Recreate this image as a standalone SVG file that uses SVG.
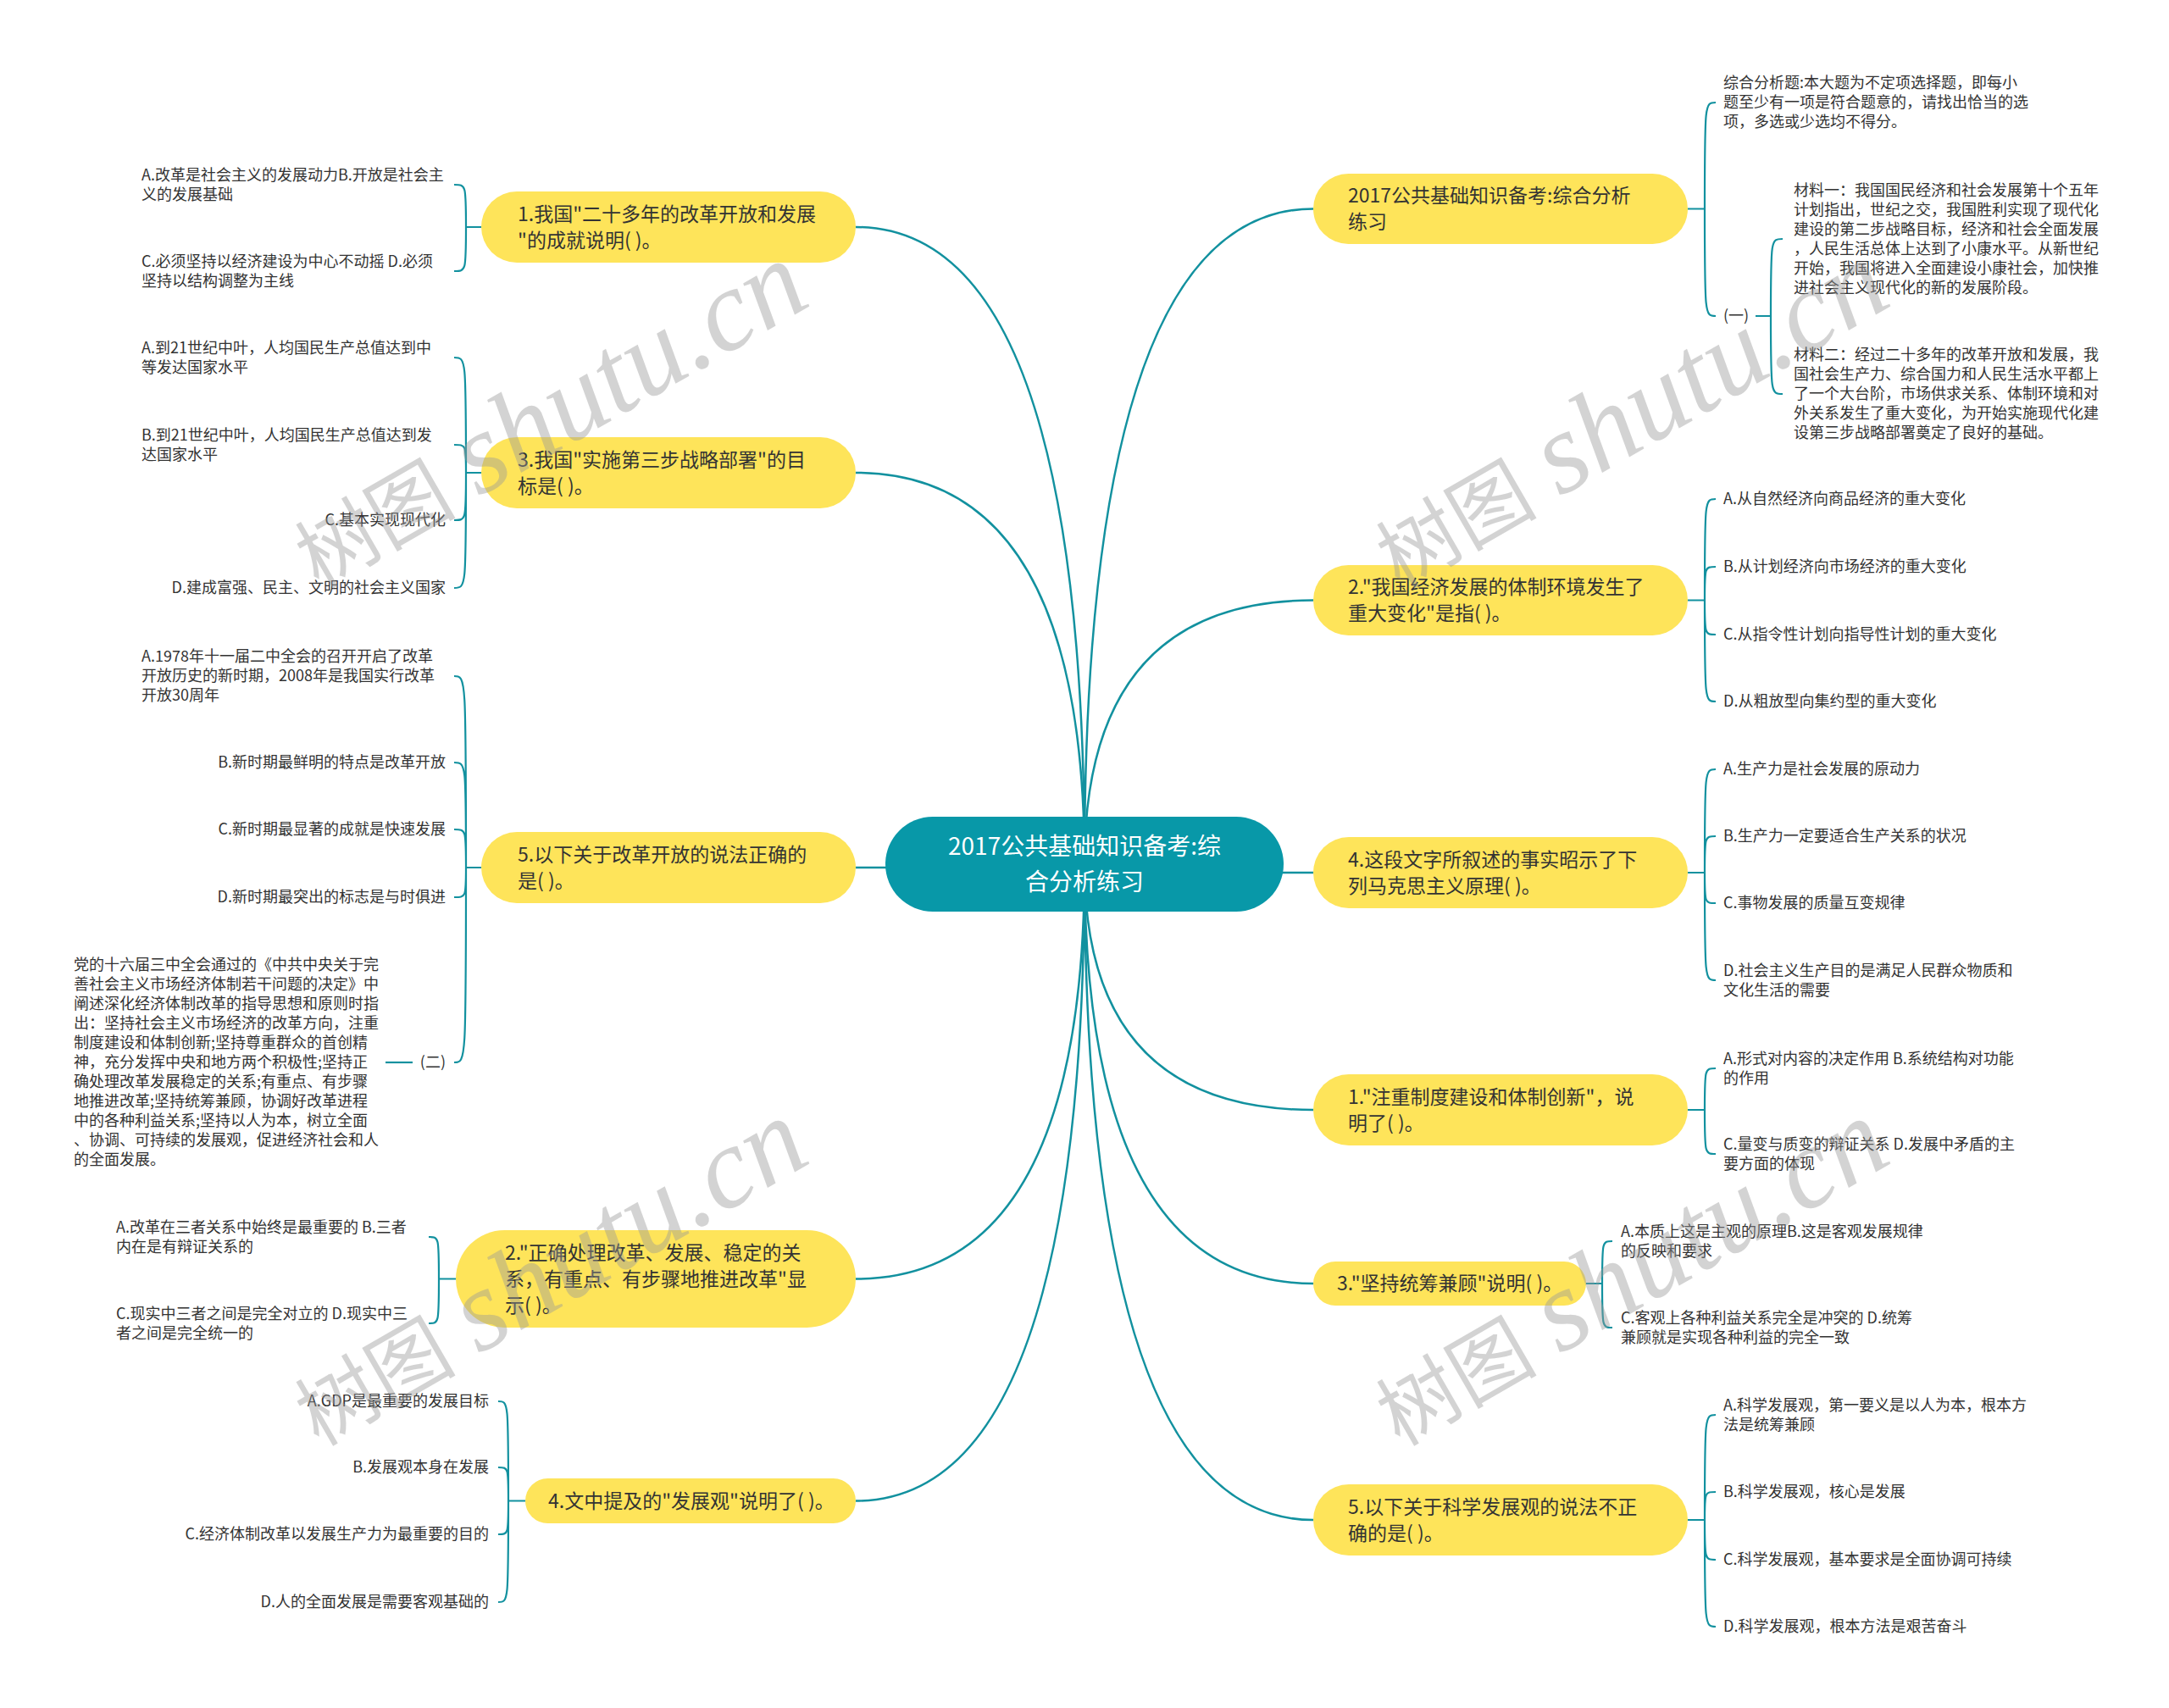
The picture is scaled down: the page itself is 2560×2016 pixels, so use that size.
<svg xmlns="http://www.w3.org/2000/svg" width="2560" height="2016" viewBox="0 0 2560 2016">
<style>
.conn{fill:none;stroke:#12919f;stroke-width:2.5}
.lc{fill:none;stroke:#12919f;stroke-width:2.2}
.yn{fill:#fee45a}
.rn{fill:#0898a8}
text{font-family:"Noto Sans CJK SC","Noto Sans",sans-serif;fill:#333}
.nt{font-size:23px}
.lt{font-size:18px}
.rt{font-size:28px;fill:#fff}
.end{text-anchor:end}
.wm{fill:#999;opacity:0.42}
.wc{font-family:"Noto Sans CJK SC",sans-serif;font-size:95px}
.we{font-family:"Liberation Serif",serif;font-style:italic;font-size:136px}
</style>
<rect width="2560" height="2016" fill="#fff"/>
<g id="connectors">
<path class="conn" d="M1280,1020 Q1280,268 1010,268"/>
<path class="conn" d="M1280,1020 Q1280,558 1010,558"/>
<path class="conn" d="M1280,1020 Q1280,1024 1010,1024"/>
<path class="conn" d="M1280,1020 Q1280,1509.5 1010,1509.5"/>
<path class="conn" d="M1280,1020 Q1280,1771.5 1010,1771.5"/>
<path class="conn" d="M1280,1020 Q1280,246.5 1550,246.5"/>
<path class="conn" d="M1280,1020 Q1280,708.5 1550,708.5"/>
<path class="conn" d="M1280,1020 Q1280,1030 1550,1030"/>
<path class="conn" d="M1280,1020 Q1280,1310 1550,1310"/>
<path class="conn" d="M1280,1020 Q1280,1515 1550,1515"/>
<path class="conn" d="M1280,1020 Q1280,1794 1550,1794"/>
<path class="lc" d="M568,268 H550 M550,268 C550,218 550,218 536,218 M550,268 C550,320 550,320 536,320"/>
<path class="lc" d="M568,558 H550 M550,558 C550,422 550,422 536,422 M550,558 C550,525 550,525 536,525 M550,558 C550,614 550,614 536,614 M550,558 C550,694 550,694 536,694"/>
<path class="lc" d="M568,1024 H550 M550,1024 C550,798 550,798 536,798 M550,1024 C550,900 550,900 536,900 M550,1024 C550,979 550,979 536,979 M550,1024 C550,1059 550,1059 536,1059 M550,1024 C550,1254 550,1254 536,1254"/>
<path class="lc" d="M487,1254 H455"/>
<path class="lc" d="M538,1509.5 H518 M518,1509.5 C518,1460 518,1460 506,1460 M518,1509.5 C518,1562 518,1562 506,1562"/>
<path class="lc" d="M620,1771.5 H600 M600,1771.5 C600,1654 600,1654 588,1654 M600,1771.5 C600,1732 600,1732 588,1732 M600,1771.5 C600,1811 600,1811 588,1811 M600,1771.5 C600,1891 600,1891 588,1891"/>
<path class="lc" d="M1992,246.5 H2012 M2012,246.5 C2012,121 2012,121 2025,121 M2012,246.5 C2012,373 2012,373 2025,373"/>
<path class="lc" d="M2072,373 H2090 M2090,373 C2090,282 2090,282 2104,282 M2090,373 C2090,465 2090,465 2104,465"/>
<path class="lc" d="M1992,708.5 H2012 M2012,708.5 C2012,589 2012,589 2025,589 M2012,708.5 C2012,669 2012,669 2025,669 M2012,708.5 C2012,749 2012,749 2025,749 M2012,708.5 C2012,828 2012,828 2025,828"/>
<path class="lc" d="M1992,1030 H2012 M2012,1030 C2012,908 2012,908 2025,908 M2012,1030 C2012,987 2012,987 2025,987 M2012,1030 C2012,1066 2012,1066 2025,1066 M2012,1030 C2012,1157 2012,1157 2025,1157"/>
<path class="lc" d="M1992,1310 H2012 M2012,1310 C2012,1261 2012,1261 2025,1261 M2012,1310 C2012,1362 2012,1362 2025,1362"/>
<path class="lc" d="M1872,1515 H1891 M1891,1515 C1891,1465 1891,1465 1903,1465 M1891,1515 C1891,1567 1891,1567 1903,1567"/>
<path class="lc" d="M1992,1794 H2012 M2012,1794 C2012,1670 2012,1670 2025,1670 M2012,1794 C2012,1761 2012,1761 2025,1761 M2012,1794 C2012,1841 2012,1841 2025,1841 M2012,1794 C2012,1920 2012,1920 2025,1920"/>
</g>

<g id="root">
<rect class="rn" x="1045" y="964" width="470" height="112" rx="56"/>
<text class="rt" text-anchor="middle"><tspan x="1280" y="1009">2017公共基础知识备考:综</tspan><tspan x="1280" y="1051">合分析练习</tspan></text>
</g>

<g id="L1">
<rect class="yn" x="568" y="226" width="442" height="84" rx="42"/>
<text class="nt"><tspan x="611" y="260.5">1.我国"二十多年的改革开放和发展</tspan><tspan x="611" y="291.5">"的成就说明( )。</tspan></text>
</g>
<g id="L3">
<rect class="yn" x="568" y="516" width="442" height="84" rx="42"/>
<text class="nt"><tspan x="611" y="550.5">3.我国"实施第三步战略部署"的目</tspan><tspan x="611" y="581.5">标是( )。</tspan></text>
</g>
<g id="L5">
<rect class="yn" x="568" y="982" width="442" height="84" rx="42"/>
<text class="nt"><tspan x="611" y="1016.5">5.以下关于改革开放的说法正确的</tspan><tspan x="611" y="1047.5">是( )。</tspan></text>
</g>
<g id="L2">
<rect class="yn" x="538" y="1452" width="472" height="115" rx="57.5"/>
<text class="nt"><tspan x="596" y="1486.5">2."正确处理改革、发展、稳定的关</tspan><tspan x="596" y="1517.5">系，有重点、有步骤地推进改革"显</tspan><tspan x="596" y="1548.5">示( )。</tspan></text>
</g>
<g id="L4">
<rect class="yn" x="620" y="1745" width="390" height="53" rx="26.5"/>
<text class="nt"><tspan x="647" y="1779.5">4.文中提及的"发展观"说明了( )。</tspan></text>
</g>

<g id="R1">
<rect class="yn" x="1550" y="205" width="442" height="83" rx="41.5"/>
<text class="nt"><tspan x="1591" y="239">2017公共基础知识备考:综合分析</tspan><tspan x="1591" y="270">练习</tspan></text>
</g>
<g id="R2">
<rect class="yn" x="1550" y="667" width="442" height="83" rx="41.5"/>
<text class="nt"><tspan x="1591" y="701">2."我国经济发展的体制环境发生了</tspan><tspan x="1591" y="732">重大变化"是指( )。</tspan></text>
</g>
<g id="R4">
<rect class="yn" x="1550" y="988" width="442" height="84" rx="42"/>
<text class="nt"><tspan x="1591" y="1022.5">4.这段文字所叙述的事实昭示了下</tspan><tspan x="1591" y="1053.5">列马克思主义原理( )。</tspan></text>
</g>
<g id="R1b">
<rect class="yn" x="1550" y="1268" width="442" height="84" rx="42"/>
<text class="nt"><tspan x="1591" y="1302.5">1."注重制度建设和体制创新"，说</tspan><tspan x="1591" y="1333.5">明了( )。</tspan></text>
</g>
<g id="R3">
<rect class="yn" x="1550" y="1489" width="322" height="52" rx="26"/>
<text class="nt"><tspan x="1578" y="1523">3."坚持统筹兼顾"说明( )。</tspan></text>
</g>
<g id="R5">
<rect class="yn" x="1550" y="1752" width="442" height="84" rx="42"/>
<text class="nt"><tspan x="1591" y="1786.5">5.以下关于科学发展观的说法不正</tspan><tspan x="1591" y="1817.5">确的是( )。</tspan></text>
</g>

<g id="L1-A"><text class="lt"><tspan x="167" y="212.5">A.改革是社会主义的发展动力B.开放是社会主</tspan><tspan x="167" y="235.5">义的发展基础</tspan></text></g>
<g id="L1-C"><text class="lt"><tspan x="167" y="314.5">C.必须坚持以经济建设为中心不动摇 D.必须</tspan><tspan x="167" y="337.5">坚持以结构调整为主线</tspan></text></g>
<g id="L3-A"><text class="lt"><tspan x="167" y="416.5">A.到21世纪中叶，人均国民生产总值达到中</tspan><tspan x="167" y="439.5">等发达国家水平</tspan></text></g>
<g id="L3-B"><text class="lt"><tspan x="167" y="519.5">B.到21世纪中叶，人均国民生产总值达到发</tspan><tspan x="167" y="542.5">达国家水平</tspan></text></g>
<g id="L3-C"><text class="lt end" x="526" y="620">C.基本实现现代化</text></g>
<g id="L3-D"><text class="lt end" x="526" y="700">D.建成富强、民主、文明的社会主义国家</text></g>
<g id="L5-A"><text class="lt"><tspan x="167" y="781">A.1978年十一届二中全会的召开开启了改革</tspan><tspan x="167" y="804">开放历史的新时期，2008年是我国实行改革</tspan><tspan x="167" y="827">开放30周年</tspan></text></g>
<g id="L5-B"><text class="lt end" x="526" y="906">B.新时期最鲜明的特点是改革开放</text></g>
<g id="L5-C"><text class="lt end" x="526" y="985">C.新时期最显著的成就是快速发展</text></g>
<g id="L5-D"><text class="lt end" x="526" y="1065">D.新时期最突出的标志是与时俱进</text></g>
<g id="L5-E"><text class="lt end" x="526" y="1260">(二)</text></g>
<g id="L5-E1"><text class="lt">
<tspan x="87" y="1145">党的十六届三中全会通过的《中共中央关于完</tspan>
<tspan x="87" y="1168">善社会主义市场经济体制若干问题的决定》中</tspan>
<tspan x="87" y="1191">阐述深化经济体制改革的指导思想和原则时指</tspan>
<tspan x="87" y="1214">出：坚持社会主义市场经济的改革方向，注重</tspan>
<tspan x="87" y="1237">制度建设和体制创新;坚持尊重群众的首创精</tspan>
<tspan x="87" y="1260">神，充分发挥中央和地方两个积极性;坚持正</tspan>
<tspan x="87" y="1283">确处理改革发展稳定的关系;有重点、有步骤</tspan>
<tspan x="87" y="1306">地推进改革;坚持统筹兼顾，协调好改革进程</tspan>
<tspan x="87" y="1329">中的各种利益关系;坚持以人为本，树立全面</tspan>
<tspan x="87" y="1352">、协调、可持续的发展观，促进经济社会和人</tspan>
<tspan x="87" y="1375">的全面发展。</tspan></text></g>
<g id="L2-A"><text class="lt"><tspan x="137" y="1454.5">A.改革在三者关系中始终是最重要的 B.三者</tspan><tspan x="137" y="1477.5">内在是有辩证关系的</tspan></text></g>
<g id="L2-C"><text class="lt"><tspan x="137" y="1556.5">C.现实中三者之间是完全对立的 D.现实中三</tspan><tspan x="137" y="1579.5">者之间是完全统一的</tspan></text></g>
<g id="L4-A"><text class="lt end" x="577" y="1660">A.GDP是最重要的发展目标</text></g>
<g id="L4-B"><text class="lt end" x="577" y="1738">B.发展观本身在发展</text></g>
<g id="L4-C"><text class="lt end" x="577" y="1817">C.经济体制改革以发展生产力为最重要的目的</text></g>
<g id="L4-D"><text class="lt end" x="577" y="1897">D.人的全面发展是需要客观基础的</text></g>

<g id="R1-A"><text class="lt"><tspan x="2034" y="104">综合分析题:本大题为不定项选择题，即每小</tspan><tspan x="2034" y="127">题至少有一项是符合题意的，请找出恰当的选</tspan><tspan x="2034" y="150">项，多选或少选均不得分。</tspan></text></g>
<g id="R1-B"><text class="lt" x="2034" y="379">(一)</text></g>
<g id="R1-B1"><text class="lt">
<tspan x="2117" y="230.5">材料一：我国国民经济和社会发展第十个五年</tspan>
<tspan x="2117" y="253.5">计划指出，世纪之交，我国胜利实现了现代化</tspan>
<tspan x="2117" y="276.5">建设的第二步战略目标，经济和社会全面发展</tspan>
<tspan x="2117" y="299.5">，人民生活总体上达到了小康水平。从新世纪</tspan>
<tspan x="2117" y="322.5">开始，我国将进入全面建设小康社会，加快推</tspan>
<tspan x="2117" y="345.5">进社会主义现代化的新的发展阶段。</tspan></text></g>
<g id="R1-B2"><text class="lt">
<tspan x="2117" y="425">材料二：经过二十多年的改革开放和发展，我</tspan>
<tspan x="2117" y="448">国社会生产力、综合国力和人民生活水平都上</tspan>
<tspan x="2117" y="471">了一个大台阶，市场供求关系、体制环境和对</tspan>
<tspan x="2117" y="494">外关系发生了重大变化，为开始实施现代化建</tspan>
<tspan x="2117" y="517">设第三步战略部署奠定了良好的基础。</tspan></text></g>
<g id="R2-A"><text class="lt" x="2034" y="595">A.从自然经济向商品经济的重大变化</text></g>
<g id="R2-B"><text class="lt" x="2034" y="675">B.从计划经济向市场经济的重大变化</text></g>
<g id="R2-C"><text class="lt" x="2034" y="755">C.从指令性计划向指导性计划的重大变化</text></g>
<g id="R2-D"><text class="lt" x="2034" y="834">D.从粗放型向集约型的重大变化</text></g>
<g id="R4-A"><text class="lt" x="2034" y="914">A.生产力是社会发展的原动力</text></g>
<g id="R4-B"><text class="lt" x="2034" y="993">B.生产力一定要适合生产关系的状况</text></g>
<g id="R4-C"><text class="lt" x="2034" y="1072">C.事物发展的质量互变规律</text></g>
<g id="R4-D"><text class="lt"><tspan x="2034" y="1151.5">D.社会主义生产目的是满足人民群众物质和</tspan><tspan x="2034" y="1174.5">文化生活的需要</tspan></text></g>
<g id="R1b-A"><text class="lt"><tspan x="2034" y="1255.5">A.形式对内容的决定作用 B.系统结构对功能</tspan><tspan x="2034" y="1278.5">的作用</tspan></text></g>
<g id="R1b-C"><text class="lt"><tspan x="2034" y="1356.5">C.量变与质变的辩证关系 D.发展中矛盾的主</tspan><tspan x="2034" y="1379.5">要方面的体现</tspan></text></g>
<g id="R3-A"><text class="lt"><tspan x="1913" y="1459.5">A.本质上这是主观的原理B.这是客观发展规律</tspan><tspan x="1913" y="1482.5">的反映和要求</tspan></text></g>
<g id="R3-C"><text class="lt"><tspan x="1913" y="1561.5">C.客观上各种利益关系完全是冲突的 D.统筹</tspan><tspan x="1913" y="1584.5">兼顾就是实现各种利益的完全一致</tspan></text></g>
<g id="R5-A"><text class="lt"><tspan x="2034" y="1664.5">A.科学发展观，第一要义是以人为本，根本方</tspan><tspan x="2034" y="1687.5">法是统筹兼顾</tspan></text></g>
<g id="R5-B"><text class="lt" x="2034" y="1767">B.科学发展观，核心是发展</text></g>
<g id="R5-C"><text class="lt" x="2034" y="1847">C.科学发展观，基本要求是全面协调可持续</text></g>
<g id="R5-D"><text class="lt" x="2034" y="1926">D.科学发展观，根本方法是艰苦奋斗</text></g>

<g id="watermarks">
<text class="wm" transform="translate(376,696) rotate(-30)"><tspan class="wc">树图</tspan><tspan class="we" dx="28">shutu.cn</tspan></text>
<text class="wm" transform="translate(376,1708) rotate(-30)"><tspan class="wc">树图</tspan><tspan class="we" dx="28">shutu.cn</tspan></text>
<text class="wm" transform="translate(1652,696) rotate(-30)"><tspan class="wc">树图</tspan><tspan class="we" dx="28">shutu.cn</tspan></text>
<text class="wm" transform="translate(1652,1708) rotate(-30)"><tspan class="wc">树图</tspan><tspan class="we" dx="28">shutu.cn</tspan></text>
</g>
</svg>
